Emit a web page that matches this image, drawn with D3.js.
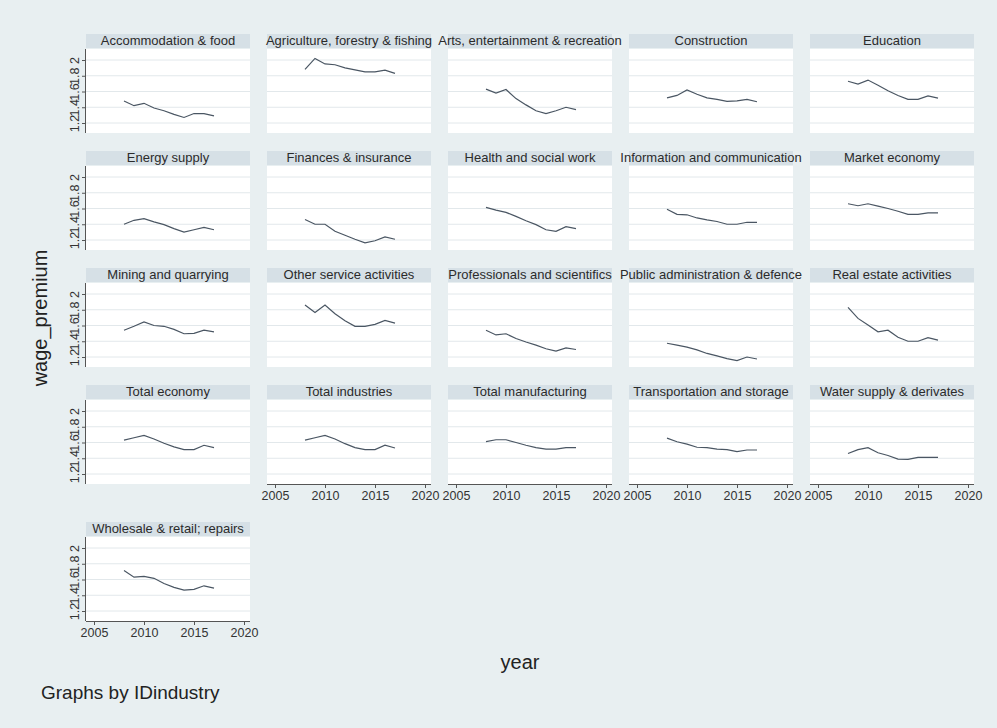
<!DOCTYPE html>
<html>
<head>
<meta charset="utf-8">
<script src="https://cdn.jsdelivr.net/npm/d3@7"></script>
<style>
  body { margin: 0; background: #e8eff1; }
  svg { display: block; font-family: "Liberation Sans", Arial, sans-serif; }
</style>
</head>
<body>
<svg id="chart-svg" width="997" height="728"></svg>
<script>
// data (wage premium by industry, 2008-2017)
const years = [2008, 2009, 2010, 2011, 2012, 2013, 2014, 2015, 2016, 2017];
const industries = [
  "Accommodation & food", "Agriculture, forestry & fishing", "Arts, entertainment & recreation",
  "Construction", "Education", "Energy supply", "Finances & insurance", "Health and social work",
  "Information and communication", "Market economy", "Mining and quarrying", "Other service activities",
  "Professionals and scientifics", "Public administration & defence", "Real estate activities",
  "Total economy", "Total industries", "Total manufacturing", "Transportation and storage",
  "Water supply & derivates", "Wholesale & retail; repairs"
];
const accommodation = [1.48, 1.42, 1.45, 1.39, 1.355, 1.31, 1.27, 1.32, 1.32, 1.29];
const agriculture   = [1.88, 2.02, 1.95, 1.94, 1.90, 1.875, 1.85, 1.85, 1.87, 1.83];
const arts          = [1.63, 1.58, 1.625, 1.51, 1.43, 1.355, 1.32, 1.355, 1.40, 1.37];
const construction  = [1.52, 1.55, 1.62, 1.565, 1.52, 1.50, 1.475, 1.48, 1.50, 1.47];
const education     = [1.73, 1.695, 1.745, 1.68, 1.61, 1.55, 1.50, 1.50, 1.545, 1.515];
const energy        = [1.40, 1.45, 1.47, 1.43, 1.395, 1.345, 1.30, 1.33, 1.36, 1.33];
const finances      = [1.46, 1.40, 1.40, 1.31, 1.26, 1.21, 1.165, 1.19, 1.24, 1.21];
const health        = [1.615, 1.58, 1.55, 1.50, 1.445, 1.395, 1.33, 1.31, 1.37, 1.345];
const information   = [1.59, 1.525, 1.52, 1.48, 1.455, 1.435, 1.40, 1.40, 1.425, 1.425];
const market        = [1.66, 1.635, 1.66, 1.63, 1.60, 1.565, 1.525, 1.525, 1.545, 1.545];
const mining        = [1.54, 1.59, 1.645, 1.60, 1.59, 1.55, 1.495, 1.50, 1.54, 1.52];
const otherService  = [1.86, 1.765, 1.86, 1.75, 1.66, 1.59, 1.59, 1.615, 1.665, 1.63];
const professionals = [1.54, 1.48, 1.495, 1.435, 1.39, 1.35, 1.305, 1.275, 1.315, 1.295];
const publicAdmin   = [1.375, 1.35, 1.325, 1.29, 1.245, 1.215, 1.18, 1.155, 1.20, 1.175];
const realEstate    = [1.83, 1.69, 1.605, 1.52, 1.54, 1.45, 1.40, 1.40, 1.445, 1.415];
const totalEconomy  = [1.63, 1.66, 1.69, 1.645, 1.59, 1.545, 1.51, 1.51, 1.565, 1.535];
const totalIndustry = [1.63, 1.66, 1.69, 1.645, 1.585, 1.535, 1.51, 1.51, 1.565, 1.53];
const manufacturing = [1.61, 1.635, 1.635, 1.60, 1.565, 1.535, 1.515, 1.515, 1.535, 1.535];
const transport     = [1.655, 1.61, 1.58, 1.54, 1.535, 1.515, 1.51, 1.485, 1.505, 1.505];
const water         = [1.46, 1.51, 1.535, 1.47, 1.435, 1.39, 1.385, 1.41, 1.41, 1.41];
const wholesale     = [1.715, 1.63, 1.64, 1.615, 1.55, 1.50, 1.465, 1.475, 1.52, 1.49];
const yTicks = [1.2, 1.4, 1.6, 1.8, 2];
const xTicks = [2005, 2010, 2015, 2020];

const series = [accommodation, agriculture, arts, construction, education, energy, finances,
  health, information, market, mining, otherService, professionals, publicAdmin, realEstate,
  totalEconomy, totalIndustry, manufacturing, transport, water, wholesale];

const svg = d3.select("#chart-svg");
const nCols = 5;
const colLeft = 86, colStep = 181, pw = 164, ph = 84, stripH = 14;
const rowTops = [49, 166, 283, 400, 537];
const fontFam = "Liberation Sans, Arial, sans-serif";

const x = d3.scaleLinear().domain([2005, 2020]).range([8, 158]);
const y = d3.scaleLinear().domain([1.2, 2]).range([ph - 10, 11]);

svg.append("rect").attr("width", 997).attr("height", 728).attr("fill", "#e8eff1");

const line = d3.line().x((d, i) => x(years[i])).y(d => y(d));

industries.forEach((name, i) => {
  const row = Math.floor(i / nCols), col = i % nCols;
  const g = svg.append("g")
      .attr("transform", `translate(${colLeft + col * colStep}, ${rowTops[row]})`);

  // strip with the industry name
  g.append("rect").attr("x", 0).attr("y", -stripH - 1).attr("width", pw).attr("height", stripH)
      .attr("fill", "#d6e0e6");

  // plot area + grid
  g.append("rect").attr("width", pw).attr("height", ph).attr("fill", "#ffffff");
  g.selectAll(".grid").data(yTicks).enter().append("line")
      .attr("x1", 0).attr("x2", pw)
      .attr("y1", d => y(d)).attr("y2", d => y(d))
      .attr("stroke", "#e2e8eb").attr("stroke-width", 1);

  g.append("path").datum(series[i])
      .attr("d", line).attr("fill", "none")
      .attr("stroke", "#4a5663").attr("stroke-width", 1.2);

  if (col === 0) {
    const ya = g.append("g").call(d3.axisLeft(y).tickValues(yTicks).tickSize(4).tickFormat(d3.format("~g")));
    ya.select(".domain").attr("d", `M-0.5,0V${ph}`).attr("stroke", "#555");
    ya.selectAll(".tick line").attr("stroke", "#555");
    ya.selectAll(".tick text")
        .attr("x", 0).attr("dy", 0)
        .attr("transform", "translate(-7,0) rotate(-90)")
        .attr("text-anchor", "middle")
        .attr("font-size", 12.5).attr("font-family", fontFam)
        .attr("fill", "#333");
  }

  if (i + nCols >= industries.length) {
    const xa = g.append("g").attr("transform", `translate(0, ${ph})`)
        .call(d3.axisBottom(x).tickValues(xTicks).tickSize(4).tickFormat(d3.format("d")));
    xa.select(".domain").attr("d", `M0,0.5H${pw}`).attr("stroke", "#555");
    xa.selectAll(".tick line").attr("stroke", "#555");
    xa.selectAll(".tick text").attr("y", 7)
        .attr("font-size", 12.5).attr("font-family", fontFam)
        .attr("fill", "#333");
  }
});

// strip titles drawn last so long names can run over the next strip
industries.forEach((name, i) => {
  const row = Math.floor(i / nCols), col = i % nCols;
  svg.append("text")
      .attr("x", colLeft + col * colStep + pw / 2).attr("y", rowTops[row] - 4)
      .attr("text-anchor", "middle").attr("font-size", 13).attr("fill", "#2b2b2b")
      .text(name);
});

// axis titles and note
svg.append("text")
    .attr("transform", "translate(47, 318) rotate(-90)")
    .attr("text-anchor", "middle").attr("font-size", 20).attr("fill", "#222")
    .text("wage_premium");

svg.append("text")
    .attr("x", 520).attr("y", 669)
    .attr("text-anchor", "middle").attr("font-size", 20).attr("fill", "#222")
    .text("year");

svg.append("text")
    .attr("x", 41).attr("y", 699)
    .attr("font-size", 19).attr("fill", "#222")
    .text("Graphs by IDindustry");
</script>
</body>
</html>
